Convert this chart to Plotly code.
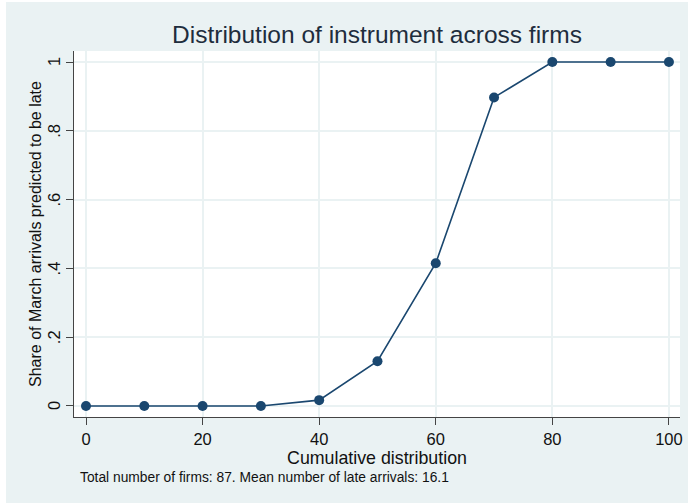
import plotly.graph_objects as go

# Data
x_vals = [0, 10, 20, 30, 40, 50, 60, 70, 80, 90, 100]
y_vals = [0, 0, 0, 0, 0.017, 0.13, 0.415, 0.897, 1, 1, 1]
x_ticks = [0, 20, 40, 60, 80, 100]
y_ticks = [0, 0.2, 0.4, 0.6, 0.8, 1]
y_ticktext = ["0", ".2", ".4", ".6", ".8", "1"]

title_text = "Distribution of instrument across firms"
x_title = "Cumulative distribution"
y_title = "Share of March arrivals predicted to be late"
note_text = "Total number of firms: 87. Mean number of late arrivals: 16.1"

BG = "#EAF2F3"
NAVY = "#1A476F"
FONT = "Arial, Liberation Sans, sans-serif"

# page offset (white strip left/top in the reference)
OX, OY = 6, 2
W, H = 682, 501
L, R, T, B = 74 - OX, 8, 51 - OY, 86
pw, ph = W - L - R, H - T - B

def px_x(p):
    return (p - OX - L) / pw

def px_y(p):
    return (H - B - (p - OY)) / ph

fig = go.Figure()
fig.add_trace(go.Scatter(
    x=x_vals, y=y_vals, mode="lines+markers",
    line=dict(color=NAVY, width=1.6),
    marker=dict(color=NAVY, size=10),
    showlegend=False, hoverinfo="skip",
))

annotations = [
    dict(text=note_text, xref="paper", yref="paper",
         x=px_x(78), y=px_y(477), xanchor="left", yanchor="middle",
         showarrow=False, font=dict(size=13.8, color="#111111", family=FONT)),
    dict(text=y_title, xref="paper", yref="paper", textangle=-90,
         x=px_x(35), y=0.5, xanchor="center", yanchor="middle",
         showarrow=False, font=dict(size=16, color="#111111", family=FONT)),
]
# rotated y tick labels, placed on the y axis scale
for v, t in zip(y_ticks, y_ticktext):
    annotations.append(dict(text=t, xref="paper", yref="y", x=px_x(54), y=v,
                            textangle=-90, xanchor="center", yanchor="middle",
                            showarrow=False,
                            font=dict(size=16.5, color="#111111", family=FONT)))

fig.update_layout(
    width=W, height=H,
    margin=dict(l=L, r=R, t=T, b=B, autoexpand=False),
    paper_bgcolor=BG,
    plot_bgcolor="white",
    font=dict(family=FONT, color="#111111"),
    title=dict(text=title_text, x=0.5, xref="paper", xanchor="center",
               y=1 - (34 - OY) / H, yref="container", yanchor="middle",
               font=dict(size=24.5, color="#1E2D3D", family=FONT)),
    annotations=annotations,
)

fig.update_xaxes(
    range=[-2.06, 101.9], tickvals=x_ticks,
    showgrid=True, gridcolor=BG, gridwidth=1.5,
    zeroline=False, showline=True, linecolor="#444444", linewidth=1,
    ticks="outside", ticklen=7, tickcolor="#444444", tickwidth=1,
    tickfont=dict(size=16.5, color="#111111"),
    title=dict(text=x_title, font=dict(size=17.8, color="#111111"), standoff=0),
)
fig.update_yaxes(
    range=[-0.032, 1.032], tickvals=y_ticks, showticklabels=False,
    showgrid=True, gridcolor=BG, gridwidth=1.5,
    zeroline=False, showline=True, linecolor="#444444", linewidth=1,
    ticks="outside", ticklen=7, tickcolor="#444444", tickwidth=1,
)

fig.write_html(
    "out.html",
    post_script="document.body.style.margin='%dpx 0 0 %dpx';document.body.style.background='white';" % (OY, OX),
)
